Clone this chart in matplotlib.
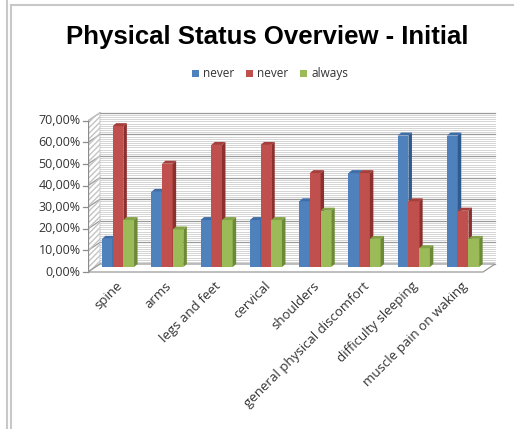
import matplotlib
matplotlib.use("Agg")
import matplotlib.pyplot as plt
from matplotlib.patches import Polygon, Patch
from matplotlib.lines import Line2D

categories = ["spine", "arms", "legs and feet", "cervical", "shoulders",
              "general physical discomfort", "difficulty sleeping",
              "muscle pain on waking"]
never_1 = [13.04, 34.78, 21.74, 21.74, 30.43, 43.48, 60.87, 60.87]
never_2 = [65.22, 47.83, 56.52, 56.52, 43.48, 43.48, 30.43, 26.09]
always = [21.74, 17.39, 21.74, 21.74, 26.09, 13.04, 8.70, 13.04]
series_names = ["never", "never", "always"]
yticks = [0, 10, 20, 30, 40, 50, 60, 70]

# face colours: front, top, side
colors = [("#4F81BD", "#3E6DA8", "#2F5A8E"),
          ("#C0504D", "#A63F3C", "#8C302E"),
          ("#9BBB59", "#84A346", "#6C8A35")]

W, H = 514, 429
fig = plt.figure(figsize=(W / 100, H / 100), dpi=100)

# frame lines around the chart area
fig.add_artist(Line2D([6.5 / W, 6.5 / W], [0, 1], color="#c8c8c8", lw=1.5))
fig.add_artist(Line2D([11 / W, 11 / W], [0, 1 - 5 / H], color="#c8c8c8", lw=1.5))
fig.add_artist(Line2D([11 / W, 1], [1 - 5 / H, 1 - 5 / H], color="#c8c8c8", lw=1.5))

# axes box in pixels, data scale: 49.3 px per category, 2.16 px per percent
px_l, px_r, px_t, px_b = 88, 502, 108, 282
ax = fig.add_axes([px_l / W, 1 - px_b / H, (px_r - px_l) / W, (px_b - px_t) / H])
x0 = -(118 - 88) / 49.3
ax.set_xlim(x0, (px_r - 118) / 49.3)
ax.set_ylim(-(px_b - 272) / 2.16, (272 - px_t) / 2.16)
ax.axis("off")

ymax = 70
x1 = (483 - 118) / 49.3
wdx, wdy = 12 / 49.3, 8 / 2.16

# back wall with fine striping and major gridlines
ax.add_patch(Polygon([(x0 + wdx, wdy), (x1 + wdx, wdy), (x1 + wdx, ymax + wdy),
                      (x0 + wdx, ymax + wdy)], closed=True, fc="white", ec="none"))
for v in range(0, ymax + 1):
    major = v % 10 == 0
    ax.plot([x0 + wdx, x1 + wdx], [v + wdy, v + wdy],
            color="#9a9a9a" if major else "#d4d4d4",
            lw=0.9 if major else 0.7, zorder=1)
    if major:
        ax.plot([x0, x0 + wdx], [v, v + wdy], color="#9a9a9a", lw=0.9, zorder=1)

# left wall with diagonal hatching
ax.add_patch(Polygon([(x0, 0), (x0 + wdx, wdy), (x0 + wdx, ymax + wdy), (x0, ymax)],
                     closed=True, fc="none", ec="#c4c4c4", hatch="//////", lw=0.6,
                     zorder=1))
ax.plot([x0, x0], [0, ymax], color="#8c8c8c", lw=0.9, zorder=2)

# floor
ax.add_patch(Polygon([(x0, 0), (x1, 0), (x1 + wdx, wdy), (x0 + wdx, wdy)],
                     closed=True, fc="white", ec="#9a9a9a", lw=0.9, zorder=2))

# y ticks and labels
for v in yticks:
    ax.plot([x0 - 0.1, x0], [v, v], color="#8c8c8c", lw=0.9, clip_on=False)
    ax.text(x0 - 0.15, v, f"{v},00%", ha="right", va="center",
            fontsize=9, family="Open Sans", color="#333333")

# bars as 3D blocks
bw = 10.7 / 49.3
bdx, bdy = 3.5 / 49.3, 3 / 2.16
base = 2.3
for i in range(len(categories)):
    for k, vals in enumerate([never_1, never_2, always]):
        front, top, side = colors[k]
        xl = i - 1.5 * bw + k * bw
        xr = xl + bw
        yt = base + vals[i]
        ax.add_patch(Polygon([(xl, base), (xr, base), (xr, yt), (xl, yt)],
                             closed=True, fc=front, ec="none", zorder=3))
        ax.add_patch(Polygon([(xl, yt), (xr, yt), (xr + bdx, yt + bdy), (xl + bdx, yt + bdy)],
                             closed=True, fc=top, ec="none", zorder=3))
        ax.add_patch(Polygon([(xr, base), (xr + bdx, base + bdy), (xr + bdx, yt + bdy), (xr, yt)],
                             closed=True, fc=side, ec="none", zorder=3))

# rotated category labels
for i, name in enumerate(categories):
    ax.text(i + 0.05, -5.6, name, rotation=45, ha="right", va="center",
            rotation_mode="anchor", fontsize=9.5, family="Open Sans",
            color="#333333", clip_on=False)

fig.text(267 / W, 1 - 37 / H, "Physical Status Overview - Initial", ha="center",
         va="center", fontsize=18.5, fontweight="bold", family="Liberation Sans")

handles = [Patch(fc=c[0], ec="none") for c in colors]
fig.legend(handles, series_names, loc="center", bbox_to_anchor=(270 / W, 1 - 74 / H),
           ncol=3, frameon=False, handlelength=0.6, handleheight=0.6,
           handletextpad=0.35, columnspacing=1.0,
           prop={"family": "Open Sans", "size": 8.5}, labelcolor="#333333")

fig.savefig("out.png", dpi=100)
